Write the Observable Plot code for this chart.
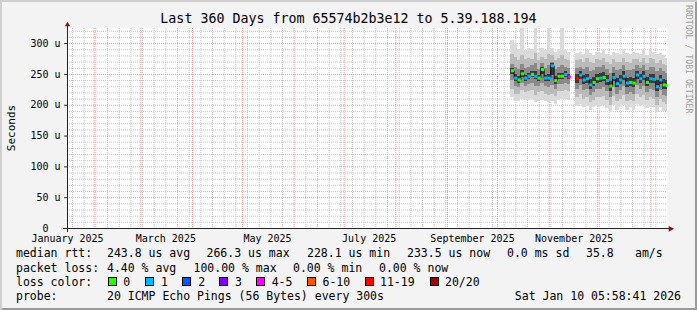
<!DOCTYPE html>
<html><head><meta charset="utf-8">
<script src="https://cdn.jsdelivr.net/npm/d3@7"></script>
<script src="https://cdn.jsdelivr.net/npm/@observablehq/plot@0.6"></script>
<style>
html,body{margin:0;padding:0;background:#f3f3f3;}
#chart{position:relative;width:697px;height:310px;background:#f3f3f3;box-shadow:inset 2px 2px 0 #cfcfcf, inset -2px -2px 0 #9a9a9a;overflow:hidden;}
#chart svg{position:absolute;left:0;top:0;}
</style></head>
<body><div id="chart"></div>
<script>
// ---------- data ----------
const titleText = "Last 360 Days from 65574b2b3e12 to 5.39.188.194";
const yLabel = "Seconds";
const watermark = "RRDTOOL / TOBI OETIKER";
const yTicks = [0, 50, 100, 150, 200, 250, 300];
const xLabelDates = ["2025-01-16","2025-03-16","2025-05-16","2025-07-16","2025-09-16","2025-11-16"];

const binStart = [
 "2025-10-09","2025-10-11","2025-10-13","2025-10-15","2025-10-17","2025-10-19","2025-10-21","2025-10-23","2025-10-25",
 "2025-10-27","2025-10-29","2025-10-31","2025-11-02","2025-11-04","2025-11-06","2025-11-08","2025-11-10","2025-11-12",
 "2025-11-17","2025-11-19","2025-11-21","2025-11-23","2025-11-25","2025-11-27","2025-11-29","2025-12-01","2025-12-03",
 "2025-12-05","2025-12-07","2025-12-09","2025-12-11","2025-12-13","2025-12-15","2025-12-17","2025-12-19","2025-12-21",
 "2025-12-23","2025-12-25","2025-12-27","2025-12-29","2025-12-31","2026-01-02","2026-01-04","2026-01-06","2026-01-08","2026-01-10"
];
const medianRtt = [256,244,241,251,244,247,250,247,244,258,244,244,264,240,247,247,250,246,
 243,249,241,243,233,237,243,244,245,240,231,245,235,241,247,236,237,236,249,243,247,237,243,242,230,241,233,232];
const lossCount = [0,1,0,0,1,1,0,1,0,0,1,1,1,0,0,0,1,4,
 12,1,1,1,1,0,0,1,0,1,0,1,1,1,1,1,0,0,1,1,1,0,1,1,1,1,0,0];
const pMin = [212,206,206,210,208,208,210,204,206,208,206,204,206,202,208,210,210,208,
 198,202,196,198,192,196,198,198,200,194,188,200,192,196,200,192,196,192,202,198,200,194,196,196,188,196,190,190];
const p10 = [226,218,218,224,220,222,224,216,220,222,218,216,218,214,222,222,224,222,
 212,218,210,212,204,208,212,212,214,208,200,214,206,210,216,206,208,206,218,212,216,208,212,210,200,210,204,202];
const p25 = [240,230,228,236,231,234,236,230,230,236,230,228,232,226,234,234,236,234,
 226,232,224,226,216,220,226,226,228,222,212,228,218,224,230,218,220,218,232,226,230,220,226,224,212,224,216,214];
const p40 = [250,239,236,245,239,242,245,241,238,250,238,238,248,234,242,242,245,242,
 236,242,234,236,226,230,236,237,238,232,223,238,228,234,240,229,230,229,242,236,240,230,236,235,222,234,226,225];
const p60 = [259,250,247,256,249,252,255,254,249,262,249,250,267,246,252,252,254,250,
 250,255,248,250,241,245,250,252,253,248,239,252,244,249,254,244,245,244,255,250,254,245,250,250,240,249,242,240];
const p75 = [266,262,258,266,260,262,264,268,258,268,260,264,270,258,262,264,262,260,
 260,262,258,262,254,256,262,262,264,258,252,262,256,258,264,256,256,258,264,260,264,256,262,262,254,260,254,252];
const p90 = [282,278,272,280,274,276,275,284,272,278,274,282,280,272,276,280,274,272,
 272,274,270,276,270,268,274,272,276,270,266,274,270,270,276,270,268,274,274,270,276,268,276,274,268,272,266,264];
const pMax = [305,300,290,324,288,292,290,324,286,292,288,324,292,286,290,324,288,286,
 284,286,282,288,284,280,286,284,288,282,280,286,284,282,290,284,282,286,284,282,288,280,290,286,282,284,280,276];

const lossLabels = ["0","1","2","3","4-5","6-10","11-19","20/20"];
const lossUpper  = [0,1,2,3,5,10,19,20];
const lossColors = ["#26ff00","#00b8ff","#0059ff","#7e00ff","#ff00ff","#ff5500","#ff0000","#a00000"];

const statMedian = ["median rtt:","243.8 us avg","266.3 us max","228.1 us min","233.5 us now","0.0 ms sd","35.8","am/s"];
const statLoss = ["packet loss:","4.40 % avg","100.00 % max","0.00 % min","0.00 % now"];
const lossTitle = "loss color:";
const probeText = ["probe:","20 ICMP Echo Pings (56 Bytes) every 300s"];
const stampText = "Sat Jan 10 05:58:41 2026";

// ---------- layout ----------
const DAY = 864e5;
const xStart = new Date(Date.UTC(2025,0,16));
const xEnd = new Date(Date.UTC(2026,0,11));
const yMax = 324.5;
const gapAt = Date.UTC(2025,10,15);
const mono = "DejaVu Sans Mono";

const lossColor = n => lossColors[lossUpper.findIndex(u => n <= u)];

const rows = binStart.map((s,i) => {
  const t = Date.parse(s + "T00:00:00Z");
  return {
    t0: new Date(t), t1: new Date(Math.min(t + 2*DAY, +xEnd)),
    seg: t < gapAt ? "a" : "b",
    med: medianRtt[i], loss: lossCount[i],
    lo0: pMin[i], hi0: pMax[i], lo1: p10[i], hi1: p90[i],
    lo2: p25[i], hi2: p75[i], lo3: p40[i], hi3: p60[i]
  };
});
const shades = ["#dadada","#bababa","#8a8a8a","#3a3a3a"];

const majorX = d3.utcMonth.range(new Date(+xStart + 1), xEnd);
const minorX = d3.utcSunday.range(xStart, xEnd).filter(d => !majorX.some(m => +m === +d));
const majorY = yTicks.filter(v => v > 0);
const minorY = d3.range(10, yMax, 10).filter(v => v % 50 !== 0);

const triUp = {draw(c){ c.moveTo(0,-6.8); c.lineTo(-2.7,-2.2); c.lineTo(2.7,-2.2); c.closePath(); }};
const triRight = {draw(c){ c.moveTo(6.6,0.3); c.lineTo(1.2,-2.6); c.lineTo(1.2,3.2); c.closePath(); }};

const plot = Plot.plot({
  width: 697, height: 310,
  marginLeft: 67, marginRight: 30, marginTop: 28, marginBottom: 82,
  style: {background: "transparent", fontFamily: mono, fontSize: "10px", color: "#000", overflow: "visible"},
  x: {type: "utc", domain: [xStart, xEnd], label: null},
  y: {domain: [0, yMax], label: null},
  color: {type: "identity"},
  marks: [
    Plot.frame({fill: "#fff", stroke: "none"}),
    Plot.ruleY(minorY, {stroke: "#c4c4c4", strokeDasharray: "1,1"}),
    Plot.ruleX(minorX, {stroke: "#c4c4c4", strokeDasharray: "1,1"}),
    Plot.ruleY(majorY, {stroke: "#ee9a9a", strokeDasharray: "1,1"}),
    Plot.ruleX(majorX, {stroke: "#ee9a9a", strokeDasharray: "1,1"}),
    ...[0,1,2,3].map(k => Plot.rect(rows, {
      x1: "t0", x2: "t1", y1: "lo" + k, y2: "hi" + k,
      fill: shades[k], shapeRendering: "crispEdges", clip: true
    })),
    Plot.line(rows, {x: "t0", y: "med", z: "seg", curve: "step-after", stroke: "#111", strokeWidth: 1}),
    Plot.link(rows, {x1: "t0", x2: "t1", y1: "med", y2: "med", stroke: d => lossColor(d.loss), strokeWidth: 3}),
    Plot.axisY({ticks: yTicks, tickFormat: d => d === 0 ? "0\u00a0\u00a0" : d + "\u00a0u", tickSize: 3, tickPadding: 4, stroke: "#333"}),
    Plot.axisX({ticks: xLabelDates.map(s => new Date(s + "T00:00:00Z")), tickFormat: d3.utcFormat("%B %Y"), tickSize: 0, tickPadding: 6}),
    Plot.ruleY([0], {stroke: "#222", insetLeft: -4, insetRight: -3}),
    Plot.ruleX([xStart], {stroke: "#222", insetTop: -3, insetBottom: -4}),
    Plot.dot([0], {x: () => xStart, y: () => yMax, symbol: triUp, fill: "#8b1010", stroke: "none"}),
    Plot.dot([0], {x: () => xEnd, y: () => 0, symbol: triRight, fill: "#8b1010", stroke: "none"})
  ]
});
document.getElementById("chart").appendChild(plot);

// ---------- texts & legend ----------
const svg = d3.select(plot);
function txt(x, y, s, o = {}) {
  const t = svg.append("text")
    .attr("x", x).attr("y", y)
    .attr("font-family", mono).attr("font-size", o.size || 11.5)
    .attr("fill", o.fill || "#000").attr("text-anchor", o.anchor || "start")
    .style("white-space", "pre").text(s);
  if (o.transform) t.attr("transform", o.transform);
  return t;
}
txt(348.5, 23, titleText, {size: 13.3, anchor: "middle"});
txt(0, 0, yLabel, {size: 11, anchor: "middle", transform: "translate(14.5,128) rotate(-90)"});
txt(0, 0, watermark, {size: 8.2, fill: "#a0a0a0", transform: "translate(685.5,5) rotate(90)"});

const row1X = [16,107,206.5,307,407,507,586,635];
statMedian.forEach((s,i) => txt(row1X[i], 257, s));
const row2X = [16,107,193.5,293,379];
statLoss.forEach((s,i) => txt(row2X[i], 271.5, s));
txt(16, 286, lossTitle);
const boxX = [108.5,145.5,182.5,219.5,256.5,307.5,365.5,430.5];
const labX = [123.3,161,198.3,235,271.7,322.5,380,445];
lossLabels.forEach((s,i) => {
  svg.append("rect").attr("x", boxX[i]).attr("y", 277.5).attr("width", 8).attr("height", 8)
    .attr("fill", lossColors[i]).attr("stroke", "#000").attr("stroke-width", 1);
  txt(labX[i], 286, s);
});
txt(16, 300, probeText[0]);
txt(107, 300, probeText[1]);
txt(681, 300, stampText, {anchor: "end"});
</script>
</body></html>
